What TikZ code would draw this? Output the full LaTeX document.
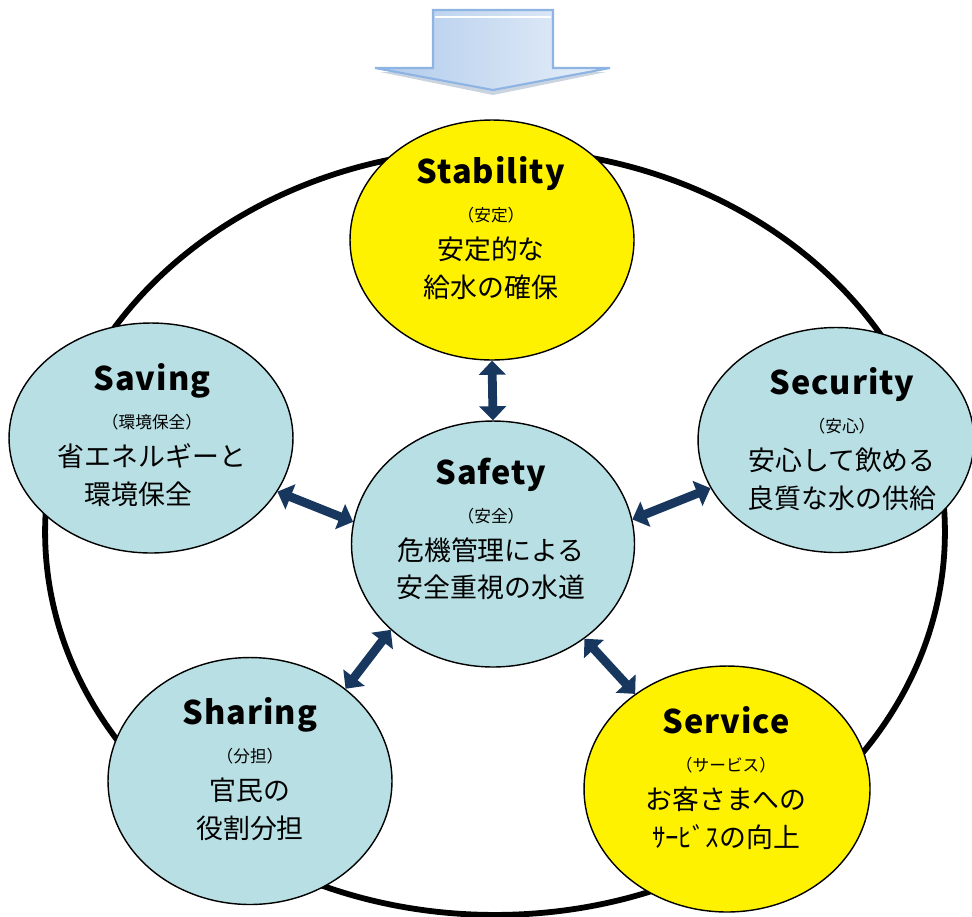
\documentclass[tikz,border=0pt]{standalone}
\usepackage{fontspec}
\setmainfont{Noto Sans CJK JP}
\newfontfamily\bubfont[LetterSpace=3]{Noto Sans CJK JP}
\usetikzlibrary{shapes.geometric,arrows.meta}
\definecolor{aqua}{HTML}{B8DFE3}
\definecolor{navy}{HTML}{17375E}
\definecolor{sky}{HTML}{8EB4E3}
\newcommand\bubtitle{\bubfont\bfseries\fontsize{18.5}{21.5}\selectfont}
\newcommand\bubsmall{\fontsize{9.5}{21.5}\selectfont}
\tikzset{
  ring/.style={ellipse, draw=black, line width=3.3pt, inner sep=0pt,
    minimum width=18cm, minimum height=15.32cm},
  bubble/.style={ellipse, draw=black, line width=0.8pt, inner sep=0pt, fill=aqua},
  caption/.style={align=center, inner sep=0pt, font=\fontsize{15.3}{21.5}\selectfont},
  link/.style={draw=navy, line width=5pt, <->, >={Triangle[width=15pt,length=8pt]}},
}
\begin{document}
\begin{tikzpicture}[x=0.02cm,y=-0.02cm]
\useasboundingbox (0,0) rectangle (972,916);
% incoming arrow
\fill[sky!60!gray, opacity=.45] (380,72) -- (606,72) -- (493,95) -- cycle;
\draw[sky, line width=1.2pt, left color=sky!70, right color=sky!20]
  (433,10) -- (553,10) -- (553,68) -- (610,68) -- (493,90) -- (375,68) -- (433,68) -- cycle;
\draw[white, line width=1pt] (435,17) -- (551,17);
%
\node[ring] (ring) at (495,532) {};
%
\node[bubble, fill=yellow, minimum width=5.68cm, minimum height=4.8cm] (stability) at (492,240) {};
\node[bubble, minimum width=5.68cm, minimum height=4.6cm] (saving) at (151,438) {};
\node[bubble, minimum width=5.52cm, minimum height=4.5cm] (security) at (836,440) {};
\node[bubble, minimum width=5.66cm, minimum height=4.92cm] (safety) at (493,544) {};
\node[bubble, minimum width=5.68cm, minimum height=4.94cm] (sharing) at (250,781) {};
\node[bubble, fill=yellow, minimum width=5.72cm, minimum height=4.92cm] (service) at (727,789) {};
%
\draw[link] (stability.south) -- (safety.north);
\draw[link] (saving.-23) -- (safety.171);
\draw[link] (safety.10) -- (security.201);
\draw[link] (safety.220) -- (sharing.44);
\draw[link] (safety.-46) -- (service.134);
%
\node[caption] (stability-t) at (491,228) {{\bubtitle Stability}\\{\bubsmall （安定）}\\安定的な\\給水の確保};
\node[caption] (saving-t) at (152,435) {{\bubtitle Saving}\\{\bubsmall （環境保全）}\\省エネルギーと\\環境保全\hphantom{　}};
\node[caption] (security-t) at (842,439) {{\bubtitle Security}\\{\bubsmall （安心）}\\安心して飲める\\良質な水の供給};
\node[caption] (safety-t) at (491,529) {{\bubtitle Safety}\\{\bubsmall （安全）}\\危機管理による\\安全重視の水道};
\node[caption] (sharing-t) at (250,769) {{\bubtitle Sharing}\\{\bubsmall （分担）}\\官民の\\役割分担};
\node[caption] (service-t) at (726,778) {{\bubtitle Service}\\{\bubsmall （サービス）}\\お客さまへの\\ｻｰﾋﾞｽの向上};
\end{tikzpicture}
\end{document}
